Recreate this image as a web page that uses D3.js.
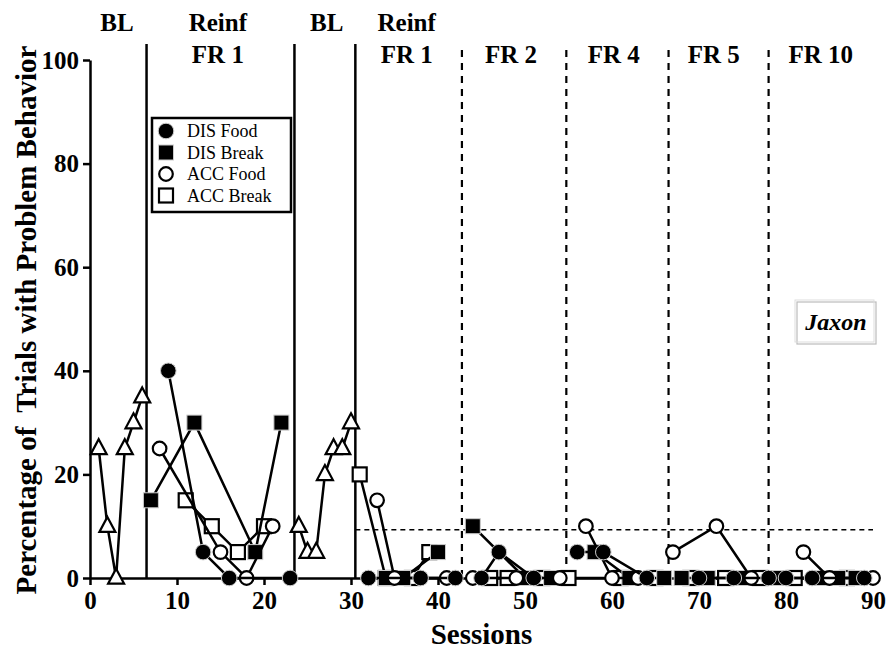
<!DOCTYPE html>
<html>
<head>
<meta charset="utf-8">
<script src="https://cdn.jsdelivr.net/npm/d3@7"></script>
<style>
  html, body { margin: 0; padding: 0; background: #fff; }
  svg { display: block; }
  text { font-family: "Liberation Serif", "Times New Roman", serif; fill: #000; }
</style>
</head>
<body>
<svg id="chart" width="887" height="653"></svg>
<script>
// ---------------- DATA ----------------
const xTicks = [0, 10, 20, 30, 40, 50, 60, 70, 80, 90];
const yTicks = [0, 20, 40, 60, 80, 100];

const solidPhaseLines = [6.5, 23.5, 30.5];
const dashedPhaseLines = [42.75, 54.75, 66.5, 78];
const allPhaseBounds = [6.5, 23.5, 30.5, 42.75, 54.75, 66.5, 78];

const phaseTop = ["BL", "Reinf", "BL", "Reinf", "", "", "", ""];
const phaseBottom = ["", "FR 1", "", "FR 1", "FR 2", "FR 4", "FR 5", "FR 10"];
const phaseCentres = [3.1, 14.7, 27.2, 36.4, 48.4, 60.2, 71.7, 84];

const criterionLevel = 9.3;          // horizontal dashed line
const criterionStart = 30.5;
const criterionEnd = 90;

// Baseline (triangles)
const baseline = [[1,25],[2,10],[3,0],[4,25],[5,30],[6,35],
                  [24,10],[25,5],[26,5],[27,20],[28,25],[29,25],[30,30]];

const disFood = [[9,40],[13,5],[16,0],[23,0],
                 [32,0],[38,0],[42,0],
                 [45,0],[47,5],[51,0],
                 [56,5],[59,5],[64,0],
                 [70,0],[74,0],
                 [78,0],[80,0],[83,0],[89,0]];

const disBreak = [[7,15],[12,30],[19,5],[22,30],
                  [34,0],[36,0],[40,5],
                  [44,10],[50,0],[53,0],
                  [58,5],[62,0],[66,0],
                  [68,0],[71,0],[75,0],
                  [79,0],[84,0],[86,0],[88,0]];

const accFood = [[8,25],[15,5],[18,0],[21,10],
                 [33,15],[35,0],[41,0],
                 [44,0],[49,0],[54,0],
                 [57,10],[60,0],[63,0],
                 [67,5],[72,10],[76,0],
                 [82,5],[85,0],[90,0]];

const accBreak = [[11,15],[14,10],[17,5],[20,10],
                  [31,20],[34,0],[37,0],[39,5],
                  [46,0],[48,0],[52,0],
                  [55,0],[61,0],[65,0],
                  [69,0],[73,0],[77,0],
                  [81,0],[87,0]];

const legendLabels = ["DIS Food", "DIS Break", "ACC Food", "ACC Break"];
const subjectName = "Jaxon";

// ---------------- DRAW ----------------
const svg = d3.select("#chart");
const x = d3.scaleLinear().domain([0, 90]).range([90, 873]);
const y = d3.scaleLinear().domain([0, 100]).range([578, 60]);

function phaseOf(s) {
  let p = 0;
  for (const b of allPhaseBounds) if (s > b) p++;
  return p;
}

// phase lines
const plTop = 44;
svg.selectAll("line.solid").data(solidPhaseLines).enter().append("line")
  .attr("x1", d => x(d)).attr("x2", d => x(d))
  .attr("y1", plTop).attr("y2", y(0))
  .attr("stroke", "#000").attr("stroke-width", 2.5);
svg.selectAll("line.dashed").data(dashedPhaseLines).enter().append("line")
  .attr("x1", d => x(d)).attr("x2", d => x(d))
  .attr("y1", plTop + 6).attr("y2", y(0))
  .attr("stroke", "#000").attr("stroke-width", 2.2)
  .attr("stroke-dasharray", "7,6");

// criterion dashed line
svg.append("line")
  .attr("x1", x(criterionStart)).attr("x2", x(criterionEnd))
  .attr("y1", y(criterionLevel)).attr("y2", y(criterionLevel))
  .attr("stroke", "#000").attr("stroke-width", 1.5)
  .attr("stroke-dasharray", "5,4");

// phase labels
phaseCentres.forEach((c, i) => {
  if (phaseTop[i]) svg.append("text").attr("x", x(c)).attr("y", 31)
    .attr("text-anchor", "middle").attr("font-weight", "bold").attr("font-size", 25)
    .text(phaseTop[i]);
  if (phaseBottom[i]) svg.append("text").attr("x", x(c)).attr("y", 63)
    .attr("text-anchor", "middle").attr("font-weight", "bold").attr("font-size", 25)
    .text(phaseBottom[i]);
});

// axes
const yAxis = d3.axisLeft(y).tickValues(yTicks).tickSize(7).tickSizeOuter(0).tickPadding(4);
const gy = svg.append("g").attr("transform", `translate(${x(0)},0)`).call(yAxis);
const xAxis = d3.axisBottom(x).tickValues(xTicks).tickSize(7).tickSizeOuter(0).tickPadding(6);
const gx = svg.append("g").attr("transform", `translate(0,${y(0)})`).call(xAxis);
[gx, gy].forEach(g => {
  g.select(".domain").attr("stroke", "#000").attr("stroke-width", 2.5);
  g.selectAll(".tick line").attr("stroke", "#000").attr("stroke-width", 2.5);
  g.selectAll(".tick text").attr("font-family", "Liberation Serif, serif")
    .attr("font-weight", "bold").attr("font-size", 25).attr("fill", "#000");
});

// axis titles
svg.append("text").attr("x", x(45)).attr("y", 644).attr("text-anchor", "middle")
  .attr("font-weight", "bold").attr("font-size", 29).text("Sessions");
svg.append("text").attr("transform", `translate(36,${(y(0)+y(100))/2 + 1}) rotate(-90)`)
  .attr("text-anchor", "middle").attr("font-weight", "bold").attr("font-size", 29)
  .attr("xml:space", "preserve").style("white-space", "pre")
  .text("Percentage of  Trials with Problem Behavior");

// marker helpers
function drawMarker(g, type, cx, cy) {
  if (type === "filledCircle") {
    g.append("circle").attr("cx", cx).attr("cy", cy).attr("r", 7.8)
      .attr("fill", "#000").attr("stroke", "#ccc").attr("stroke-width", 1);
  } else if (type === "filledSquare") {
    g.append("rect").attr("x", cx - 7.5).attr("y", cy - 7.5).attr("width", 15).attr("height", 15)
      .attr("fill", "#000").attr("stroke", "#ccc").attr("stroke-width", 1);
  } else if (type === "openCircle") {
    g.append("circle").attr("cx", cx).attr("cy", cy).attr("r", 6.8)
      .attr("fill", "#fff").attr("stroke", "#000").attr("stroke-width", 2.2);
  } else if (type === "openSquare") {
    g.append("rect").attr("x", cx - 7).attr("y", cy - 7).attr("width", 14).attr("height", 14)
      .attr("fill", "#fff").attr("stroke", "#000").attr("stroke-width", 2.2);
  } else if (type === "triangle") {
    const h = 15, w = 16;
    g.append("path")
      .attr("d", `M${cx},${cy - h*0.62} L${cx + w/2},${cy + h*0.38} L${cx - w/2},${cy + h*0.38} Z`)
      .attr("fill", "#fff").attr("stroke", "#000").attr("stroke-width", 2.2)
      .attr("stroke-linejoin", "miter");
  }
}

const line = d3.line().x(d => x(d[0])).y(d => y(d[1]));

function drawSeries(data, type) {
  const g = svg.append("g");
  const groups = d3.groups(data, d => phaseOf(d[0]));
  groups.forEach(([p, pts]) => {
    g.append("path").attr("d", line(pts)).attr("fill", "none")
      .attr("stroke", "#000").attr("stroke-width", 2.5);
  });
  data.forEach(d => drawMarker(g, type, x(d[0]), y(d[1])));
}

drawSeries(baseline, "triangle");
drawSeries(accBreak, "openSquare");
drawSeries(disBreak, "filledSquare");
drawSeries(accFood, "openCircle");
drawSeries(disFood, "filledCircle");

// legend
const lg = svg.append("g");
lg.append("rect").attr("x", 152).attr("y", 118).attr("width", 139).attr("height", 94)
  .attr("fill", "#fff").attr("stroke", "#000").attr("stroke-width", 2.5);
const legendTypes = ["filledCircle", "filledSquare", "openCircle", "openSquare"];
legendLabels.forEach((lab, i) => {
  const cy = 131 + i * 21.5;
  drawMarker(lg, legendTypes[i], 166, cy);
  lg.append("text").attr("x", 187).attr("y", cy + 6).attr("font-size", 18).text(lab);
});

// subject label
const jg = svg.append("g");
jg.append("rect").attr("x", 797).attr("y", 302).attr("width", 79).attr("height", 42)
  .attr("fill", "#fff").attr("stroke", "#bbb").attr("stroke-width", 1.2);
jg.append("rect").attr("x", 795).attr("y", 300).attr("width", 79).attr("height", 42)
  .attr("fill", "none").attr("stroke", "#ddd").attr("stroke-width", 1);
jg.append("text").attr("x", 836).attr("y", 330).attr("text-anchor", "middle")
  .attr("font-weight", "bold").attr("font-style", "italic").attr("font-size", 24)
  .text(subjectName);
</script>
</body>
</html>
